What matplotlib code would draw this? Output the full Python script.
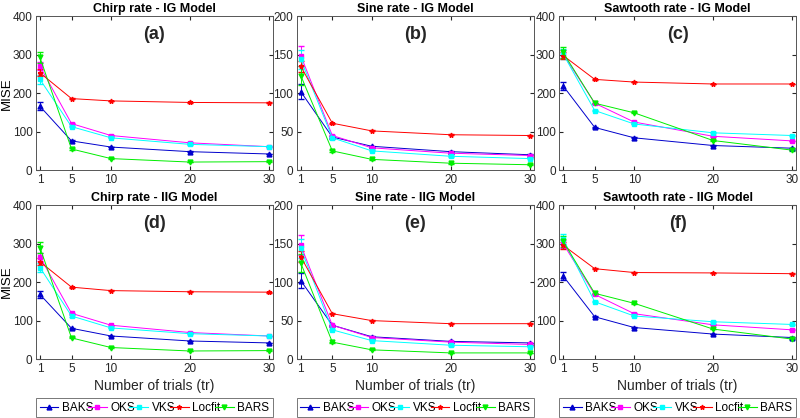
import matplotlib
matplotlib.use("Agg")
import matplotlib.pyplot as plt
from matplotlib.lines import Line2D

plt.rcParams['font.family'] = ['Liberation Sans', 'DejaVu Sans']

trials = [1, 5, 10, 20, 30]
methods = ['BAKS', 'OKS', 'VKS', 'Locfit', 'BARS']
colors = ['#0000CC', '#FF00FF', '#00FFFF', '#FF0000', '#00EE00']
markers = ['^', 's', 's', '*', 'v']

# MISE per method (BAKS, OKS, VKS, Locfit, BARS)
chirp_ig = [[166, 76, 60, 48, 42],
            [270, 121, 90, 71, 61],
            [236, 113, 84, 67, 61],
            [253, 186, 180, 176, 175],
            [293, 55, 30, 21, 22]]
sine_ig = [[102, 43, 31, 24, 20],
           [149, 45, 29, 22, 19],
           [144, 42, 25, 18, 15],
           [135, 61, 51, 46, 45],
           [123, 25, 14, 9, 7]]
saw_ig = [[219, 111, 84, 64, 57],
          [302, 174, 125, 88, 76],
          [302, 155, 120, 97, 90],
          [298, 236, 229, 224, 224],
          [306, 174, 149, 77, 52]]
chirp_iig = [[168, 80, 60, 47, 42],
             [266, 119, 88, 69, 60],
             [238, 112, 81, 66, 60],
             [253, 187, 178, 175, 174],
             [290, 55, 30, 21, 22]]
sine_iig = [[102, 44, 29, 23, 21],
            [148, 44, 28, 22, 19],
            [144, 38, 24, 18, 16],
            [133, 59, 50, 46, 46],
            [125, 22, 12, 8, 8]]
saw_iig = [[216, 110, 82, 65, 56],
           [300, 168, 118, 89, 76],
           [312, 149, 112, 97, 90],
           [296, 235, 225, 224, 222],
           [306, 171, 145, 78, 52]]

# error bar half-widths at tr=1 (BAKS, OKS, VKS, Locfit, BARS)
err_400 = [10, 10, 12, 9, 15]
err_200 = [10, 13, 12, 7, 12]

panels = [
    ('Chirp rate - IG Model', '(a)', chirp_ig, 400, err_400),
    ('Sine rate - IG Model', '(b)', sine_ig, 200, err_200),
    ('Sawtooth rate - IG Model', '(c)', saw_ig, 400, err_400),
    ('Chirp rate - IIG Model', '(d)', chirp_iig, 400, err_400),
    ('Sine rate - IIG Model', '(e)', sine_iig, 200, err_200),
    ('Sawtooth rate - IIG Model', '(f)', saw_iig, 400, err_400),
]

fig = plt.figure(figsize=(8, 4.18), dpi=100)
lefts = [0.045, 0.371, 0.699]
bottoms = [0.593, 0.141]
w, h = 0.296, 0.368
gray = '#555555'

handles = [Line2D([], [], color=c, marker=m, markersize=3.5, linewidth=0.8)
           for c, m in zip(colors, markers)]

for i, (title, tag, data, ymax, err) in enumerate(panels):
    row, col = divmod(i, 3)
    ax = fig.add_axes([lefts[col], bottoms[row], w, h])
    for j, name in enumerate(methods):
        yerr = [err[j], 1.5, 1, 1, 1]
        if ymax == 200:
            yerr = [err[j], 0.8, 0.6, 0.5, 0.5]
        ax.errorbar(trials, data[j], yerr=yerr, color=colors[j], marker=markers[j],
                    markersize=3.5, linewidth=0.7, elinewidth=0.7, capsize=2,
                    label=name)
    ax.set_xlim(0.5, 30.5)
    ax.set_ylim(0, ymax)
    ax.set_xticks(trials)
    if ymax == 400:
        ax.set_yticks([0, 100, 200, 300, 400])
    else:
        ax.set_yticks([0, 50, 100, 150, 200])
    ax.tick_params(direction='in', length=3, top=True, right=True, pad=2.5,
                   labelsize=8.5, colors='#262626')
    for s in ax.spines.values():
        s.set_color(gray)
        s.set_linewidth(0.7)
    ax.set_title(title, fontsize=9, fontweight='bold', pad=3)
    ax.text(0.5, 0.88, tag, transform=ax.transAxes, ha='center', va='center',
            fontsize=13, fontweight='bold', color='#262626')
    if col == 0:
        ax.set_ylabel('MISE', fontsize=9.5, labelpad=0)
    if row == 1:
        ax.set_xlabel('Number of trials (tr)', fontsize=10, labelpad=3,
                      color='#262626')
        leg = ax.legend(handles, methods, loc='upper left',
                        bbox_to_anchor=(0, -0.255, 1, 0), ncol=5,
                        fontsize=8.5, frameon=True, fancybox=False,
                        edgecolor=gray, handlelength=1.6, handletextpad=0.3,
                        columnspacing=0.5, borderpad=0.3, borderaxespad=0,
                        mode='expand')
        leg.get_frame().set_linewidth(0.7)

fig.savefig('out.png', dpi=100)
